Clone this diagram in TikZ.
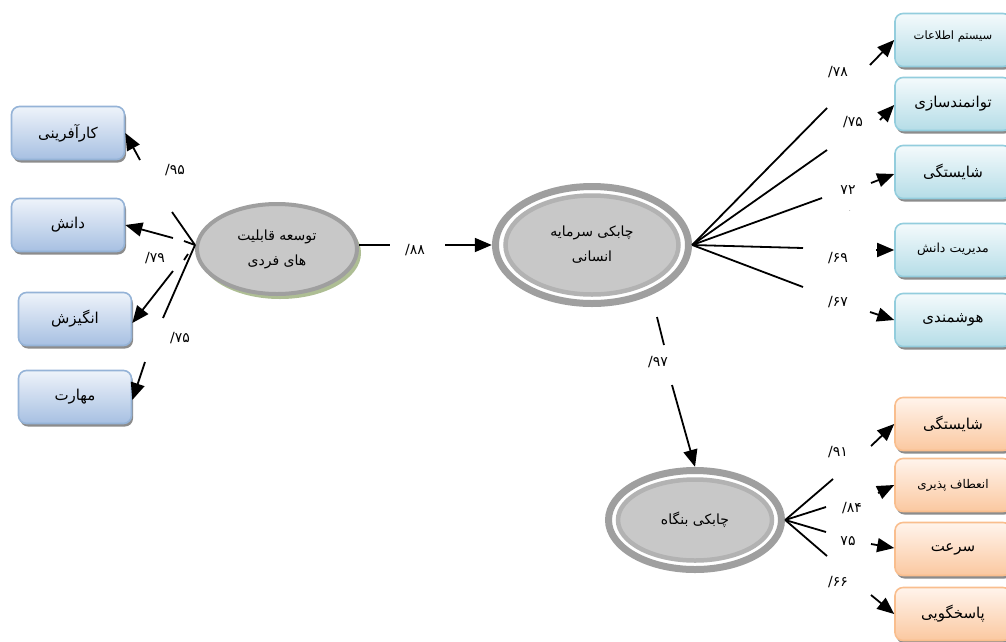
\documentclass[tikz,border=0pt]{standalone}
\usepackage{fontspec}
\usetikzlibrary{arrows.meta,shapes.geometric,calc}
\TeXXeTstate=1
\newfontfamily\fa[Script=Arabic]{DejaVu Sans}
\newcommand{\rtl}[1]{\beginR #1\endR}
\newcommand{\num}[1]{\hbox{/}\hbox{#1}}
\definecolor{bTop}{HTML}{EEF3FA}\definecolor{bBot}{HTML}{A7C0E2}\definecolor{bDraw}{HTML}{95B3D7}
\definecolor{cTop}{HTML}{F4FAFC}\definecolor{cBot}{HTML}{B5DDE7}\definecolor{cDraw}{HTML}{93CDDD}
\definecolor{oTop}{HTML}{FFF4EC}\definecolor{oBot}{HTML}{FBC8A0}\definecolor{oDraw}{HTML}{F9BE8E}
\definecolor{ringD}{HTML}{9F9F9F}\definecolor{ringL}{HTML}{B2B2B2}\definecolor{inFill}{HTML}{C8C8C8}
\definecolor{shGreen}{HTML}{AEBE94}
\tikzset{
  x=1pt,y=-1pt,
  box/.style={rectangle, rounded corners=8pt, line width=1.6pt, minimum height=53pt,
    inner sep=0pt, font=\fa\fontsize{15}{17}\selectfont,
    preaction={fill=black!45, transform canvas={shift={(1.5pt,-3pt)}}}},
  bluebox/.style={box, draw=bDraw, top color=bTop, bottom color=bBot, minimum width=113pt},
  cyanbox/.style={box, draw=cDraw, top color=cTop, bottom color=cBot, minimum width=116pt},
  orbox/.style={box, draw=oDraw, top color=oTop, bottom color=oBot, minimum width=116pt},
  arr/.style={-{Triangle[length=17pt,width=14pt]}, line width=1.8pt},
  ln/.style={line width=1.8pt},
  lab/.style={font=\fa\fontsize{14}{16}\selectfont, inner sep=0pt},
  elltext/.style={ellipse, inner sep=0pt, align=center, font=\fa\fontsize{14}{16}\selectfont},
}
\begin{document}
\begin{tikzpicture}
\useasboundingbox (0,0) rectangle (1006,641);
% ---------- left boxes
\node[bluebox] (k1) at (68,133) {\rtl{کارآفرینی}};
\node[bluebox] (k2) at (68,225) {\rtl{دانش}};
\node[bluebox] (k3) at (75,319) {\rtl{انگیزش}};
\node[bluebox] (k4) at (75,397) {\rtl{مهارت}};
% ---------- right cyan boxes
\node[cyanbox, font=\fa\fontsize{11.5}{13}\selectfont] (r1) at (953,40) {\raisebox{9pt}{\rtl{سیستم اطلاعات}}};
\node[cyanbox] (r2) at (953,104) {\raisebox{3pt}{\rtl{توانمندسازی}}};
\node[cyanbox] (r3) at (953,172) {\rtl{شایستگی}};
\node[cyanbox, font=\fa\fontsize{12.5}{14}\selectfont] (r4) at (953,250) {\raisebox{4pt}{\rtl{مدیریت دانش}}};
\node[cyanbox] (r5) at (953,320) {\rtl{هوشمندی}};
% ---------- orange boxes
\node[orbox] (o1) at (953,424) {\raisebox{2pt}{\rtl{شایستگی}}};
\node[orbox, font=\fa\fontsize{12}{14}\selectfont] (o2) at (953,485) {\raisebox{3pt}{\rtl{انعطاف پذیری}}};
\node[orbox] (o3) at (953,549) {\raisebox{2pt}{\rtl{سرعت}}};
\node[orbox] (o4) at (953,614) {\rtl{پاسخگویی}};
% ---------- ellipse 1
\coordinate (c1) at (277,249);
\fill[shGreen] ($(c1)+(3,4)$) ellipse [x radius=81, y radius=46];
\draw[line width=4pt, draw=ringD, fill=inFill] (c1) ellipse [x radius=80, y radius=45];
\node[elltext, minimum width=164pt, minimum height=94pt] (e1) at (c1) {\rtl{توسعه قابلیت}\\[9pt]\rtl{های فردی}};
% ---------- ellipse 2
\coordinate (c2) at (592,245);
\draw[line width=7pt, draw=ringD, fill=white] (c2) ellipse [x radius=96.5, y radius=58.5];
\draw[line width=4.5pt, draw=ringL, fill=inFill] (c2) ellipse [x radius=86.5, y radius=49.5];
\node[elltext, minimum width=200pt, minimum height=124pt] (e2) at (c2) {\rtl{چابکی سرمایه}\\[9pt]\rtl{انسانی}};
% ---------- ellipse 3
\coordinate (c3) at (695,520);
\draw[line width=7pt, draw=ringD, fill=white] (c3) ellipse [x radius=86.5, y radius=49.5];
\draw[line width=4.5pt, draw=ringL, fill=inFill] (c3) ellipse [x radius=77, y radius=40.5];
\node[elltext, minimum width=180pt, minimum height=106pt] (e3) at (c3) {\rtl{چابکی بنگاه}};
% ---------- left connectors
\coordinate (L) at (195,245);
\coordinate (la) at (172,212); \coordinate (lb) at (163,318);
\coordinate (lc) at (184,241); \coordinate (ld1) at (184,260); \coordinate (ld2) at (188,254);
\draw[ln] (L) -- (la); \draw[ln] (L) -- (lb); \draw[ln] (L) -- (lc); \draw[ln] (ld1) -- (ld2);
\coordinate (t1) at (140,160); \coordinate (t2) at (173,238);
\coordinate (t3) at (173,271); \coordinate (t4) at (145,362);
\draw[arr] (t1) -- (k1.east);
\draw[arr] (t2) -- (k2.east);
\draw[arr] (t3) -- ([yshift=-4]k3.east);
\draw[arr] (t4) -- ([yshift=-3]k4.east);
% ---------- e1 -> e2
\coordinate (m1) at (390,245); \coordinate (m2) at (445,245);
\draw[ln] (e1.east |- m1) -- (m1);
\draw[arr] (m2) -- (e2.west);
% ---------- e2 -> e3
\coordinate (n1) at (657,317); \coordinate (n2) at (664,345); \coordinate (n3) at (672,385);
\draw[ln] (n1) -- (n2);
\draw[arr] (n3) -- (e3.north);
% ---------- right fan
\foreach \p in {(827,108),(827,150),(822,198),(803,248),(803,287)}
  \draw[ln] (e2.east) -- \p;
\coordinate (s1) at (870,65); \coordinate (s2) at (880,120); \coordinate (s3) at (871,183);
\coordinate (s4) at (876,250); \coordinate (s5) at (870,312);
\draw[arr] (s1) -- (r1.west);
\draw[arr] (s2) -- ([yshift=-1]r2.west);
\draw[arr] (s3) -- ([yshift=-2]r3.west);
\draw[arr] (s4) -- (r4.west);
\draw[arr] (s5) -- (r5.west);
% ---------- bottom fan
\foreach \p in {(833,479),(826,507),(826,532),(827,556)}
  \draw[ln] (e3.east) -- \p;
\coordinate (u1) at (871,446); \coordinate (u2) at (878,493);
\coordinate (u3) at (871,544); \coordinate (u4) at (871,595);
\draw[arr] (u1) -- (o1.west);
\draw[arr] (u2) -- (o2.west);
\draw[arr] (u3) -- ([yshift=1]o3.west);
\draw[arr] (u4) -- (o4.west);
% ---------- labels
\node[lab] (g1) at (175,170) {\num{۹۵}};
\node[lab] (g2) at (155,258) {\num{۷۹}};
\node[lab] (g3) at (180,338) {\num{۷۵}};
\node[lab] (g4) at (415,250) {\num{۸۸}};
\node[lab] (g5) at (658,362) {\num{۹۷}};
\node[lab] (g6) at (838,72) {\num{۷۸}};
\node[lab] (g7) at (853,122) {\num{۷۵}};
\node[lab] (g8) at (848,190) {۷۲};
\node[lab, font=\fontsize{6}{7}\selectfont] (g8b) at (850,211) {.};
\node[lab] (g9) at (838,258) {\num{۶۹}};
\node[lab] (g10) at (838,302) {\num{۶۷}};
\node[lab] (g11) at (838,452) {\num{۹۱}};
\node[lab] (g12) at (852,508) {\num{۸۴}};
\node[lab] (g13) at (848,541) {۷۵};
\node[lab] (g14) at (838,582) {\num{۶۶}};
\end{tikzpicture}
\end{document}
